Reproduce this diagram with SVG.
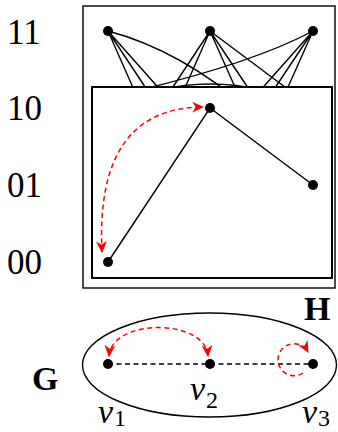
<svg xmlns="http://www.w3.org/2000/svg" width="338" height="432" viewBox="0 0 338 432">
<style>
.lbl{font-family:"Liberation Serif","Times New Roman",serif;font-size:35px;fill:#000}
.bold{font-family:"Liberation Serif","Times New Roman",serif;font-size:34px;font-weight:bold;fill:#000}
.vl{font-family:"Liberation Serif","Times New Roman",serif;font-size:34px;font-style:italic;fill:#000}
.sub{font-size:24px;font-style:normal}
.e{stroke:#000;stroke-width:1.4;fill:none}
.dash{stroke:#000;stroke-width:1.4;fill:none;stroke-dasharray:5 3.5}
.red{stroke:#f00;stroke-width:1.5;fill:none;stroke-dasharray:5 3.5}
.node{fill:#000}
.box{fill:#fff;stroke:#000}
</style>
<defs>
<marker id="ar" viewBox="0 0 10 10" refX="9" refY="5" markerWidth="12" markerHeight="12" markerUnits="userSpaceOnUse" orient="auto-start-reverse">
<path d="M0,0.5 L10,5 L0,9.5 L3,5 z" fill="#f00"/>
</marker>
</defs>
<rect width="338" height="432" fill="#fff"/>
<g id="labels">
<text class="lbl" x="7" y="44">11</text>
<text class="lbl" x="7" y="120">10</text>
<text class="lbl" x="7" y="197">01</text>
<text class="lbl" x="7" y="274">00</text>
<text class="bold" x="304" y="320">H</text>
<text class="bold" x="32" y="390">G</text>
<text class="vl" x="98" y="423">v<tspan class="sub" dx="1" dy="3">1</tspan></text>
<text class="vl" x="190" y="400">v<tspan class="sub" dx="1" dy="8">2</tspan></text>
<text class="vl" x="302" y="423">v<tspan class="sub" dx="1" dy="3">3</tspan></text>
</g>
<g id="H-outer">
<rect class="box" x="83" y="6" width="252" height="282" stroke-width="1.4"/>
</g>
<g id="connectors-fan">
<path class="e" d="M108 31 L210 185 M108 31 L210 262 M108 31 L313 262 M108 31 Q180 50 250 110"/>
<path class="e" d="M210 31 L108 185 M210 31 L108 262 M210 31 L313 185 M210 31 L313 262 M210 31 L313 108"/>
<path class="e" d="M313 31 L210 185 M313 31 L210 262 M313 31 L108 262 M313 31 Q255 62 140 90"/>
<path class="e" d="M108 108 Q210.5 60 313 108"/>
</g>
<g id="H-inner">
<rect class="box" x="92" y="87" width="240" height="191" stroke-width="2"/>
</g>
<g id="connectors">
<path class="e" d="M108 262 L210 108 L313 185"/>
<path class="red" d="M102 252 Q95 108 203 107" marker-start="url(#ar)" marker-end="url(#ar)"/>
<path class="dash" d="M108 364 L313 364"/>
<path class="red" d="M109 356 C112 318 205 318 208 356" marker-start="url(#ar)" marker-end="url(#ar)"/>
<path class="red" d="M303 373 A16 16 0 1 1 308 352" marker-end="url(#ar)"/>
</g>
<g id="G-ellipse">
<ellipse cx="209.5" cy="365" rx="127" ry="52" fill="none" stroke="#000" stroke-width="1.4"/>
</g>
<g id="n11-v1"><circle class="node" cx="108" cy="31" r="5"/></g>
<g id="n11-v2"><circle class="node" cx="210" cy="31" r="5"/></g>
<g id="n11-v3"><circle class="node" cx="313" cy="31" r="5"/></g>
<g id="n10-v2"><circle class="node" cx="210" cy="108" r="5"/></g>
<g id="n01-v3"><circle class="node" cx="313" cy="185" r="5"/></g>
<g id="n00-v1"><circle class="node" cx="108" cy="262" r="5"/></g>
<g id="G-v1"><circle class="node" cx="108" cy="364" r="5"/></g>
<g id="G-v2"><circle class="node" cx="210" cy="364" r="5"/></g>
<g id="G-v3"><circle class="node" cx="313" cy="364" r="5"/></g>
</svg>
